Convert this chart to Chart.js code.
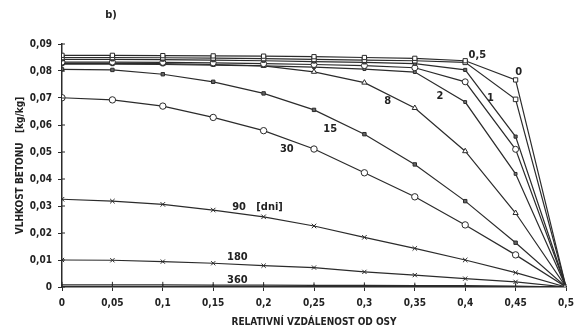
<!DOCTYPE html>
<html><head><meta charset="utf-8">
<script src="https://cdn.jsdelivr.net/npm/chart.js@4/dist/chart.umd.min.js"></script>
<style>html,body{margin:0;padding:0;background:#fff}#wrap{position:relative;width:584px;height:332px}</style>
</head><body><div id="wrap"><canvas id="c" width="584" height="332"></canvas></div>
<script>
// ---- data ----
const xValues = [0, 0.05, 0.1, 0.15, 0.2, 0.25, 0.3, 0.35, 0.4, 0.45, 0.5];
const s0   = [0.0858, 0.0858, 0.0857, 0.0856, 0.0855, 0.0853, 0.0850, 0.0847, 0.0838, 0.0767, 0];
const s05  = [0.0850, 0.0850, 0.0849, 0.0848, 0.0846, 0.0843, 0.0840, 0.0838, 0.0832, 0.0695, 0];
const s1   = [0.0843, 0.0843, 0.0842, 0.0840, 0.0838, 0.0835, 0.0832, 0.0827, 0.0804, 0.0557, 0];
const s1b  = [0.0833, 0.0833, 0.0832, 0.0830, 0.0827, 0.0824, 0.0820, 0.0812, 0.0760, 0.0510, 0];
const s2   = [0.0825, 0.0825, 0.0824, 0.0822, 0.0819, 0.0814, 0.0807, 0.0796, 0.0685, 0.0419, 0];
const s8   = [0.0828, 0.0828, 0.0827, 0.0824, 0.0819, 0.0797, 0.0757, 0.0663, 0.0503, 0.0274, 0];
const s15  = [0.0806, 0.0804, 0.0788, 0.0760, 0.0717, 0.0656, 0.0566, 0.0454, 0.0318, 0.0164, 0];
const s30  = [0.0701, 0.0693, 0.0670, 0.0628, 0.0579, 0.0511, 0.0423, 0.0334, 0.0230, 0.0119, 0];
const s90  = [0.0325, 0.0318, 0.0306, 0.0285, 0.0260, 0.0226, 0.0184, 0.0143, 0.0100, 0.0053, 0];
const s180 = [0.0100, 0.0099, 0.0094, 0.0088, 0.0079, 0.0072, 0.0056, 0.0044, 0.0031, 0.0019, 0];
const s360 = [0.0008, 0.0008, 0.0008, 0.0007, 0.0007, 0.0006, 0.0006, 0.0005, 0.0005, 0.0003, 0];
const xTickValues = [0, 0.05, 0.1, 0.15, 0.2, 0.25, 0.3, 0.35, 0.4, 0.45, 0.5];
const yTickValues = [0, 0.01, 0.02, 0.03, 0.04, 0.05, 0.06, 0.07, 0.08, 0.09];
const curveLabels = ['0,5', '0', '1', '2', '8', '15', '30', '90   [dni]', '180', '360'];
const curveLabelX = [0.412, 0.453, 0.425, 0.375, 0.323, 0.266, 0.223, 0.194, 0.174, 0.174];
const curveLabelY = [0.0857, 0.0795, 0.0699, 0.0707, 0.0689, 0.0585, 0.0511, 0.0297, 0.0111, 0.0024];

const fmt = v => { const r = Math.round(v * 100) / 100; return String(r).replace('.', ','); };
const INK = '#2b2b2b';
const FONT = "'Liberation Sans Narrow','Arial Narrow','DejaVu Sans Condensed','Liberation Sans',Arial,sans-serif";

function ds(label, vals, style, radius, fill, rot) {
  return {
    label, data: xValues.map((x, i) => ({x, y: vals[i]})),
    borderColor: INK, borderWidth: 1.2, pointStyle: style, pointRadius: radius,
    pointBorderColor: INK, pointBorderWidth: 1, pointBackgroundColor: fill,
    pointRotation: rot || 0, tension: 0, fill: false
  };
}
const datasets = [
  ds('0', s0, 'rect', 3, '#fff'),
  ds('0,5', s05, 'rect', 3.2, '#fff'),
  ds('1', s1, 'rect', 2.2, '#666'),
  ds('', s1b, 'circle', 3, '#fff'),
  ds('2', s2, 'rect', 2, '#777'),
  ds('8', s8, 'triangle', 3, '#fff'),
  ds('15', s15, 'rect', 2.4, '#666'),
  ds('30', s30, 'circle', 3.2, '#fff'),
  ds('90', s90, 'crossRot', 3.2, '#fff'),
  ds('180', s180, 'crossRot', 3, '#fff'),
  ds('360', s360, 'line', 3, '#fff', 90)
];

const innerTicks = {
  id: 'innerTicks',
  afterDraw(chart) {
    const c = chart.ctx, xs = chart.scales.x, ys = chart.scales.y;
    c.save(); c.strokeStyle = INK; c.lineWidth = 1;
    xTickValues.forEach(v => { const p = xs.getPixelForValue(v); c.beginPath(); c.moveTo(p, ys.bottom); c.lineTo(p, ys.bottom - 3); c.stroke(); });
    yTickValues.forEach(v => { const p = ys.getPixelForValue(v); c.beginPath(); c.moveTo(xs.left, p); c.lineTo(xs.left + 3, p); c.stroke(); });
    // curve labels
    c.fillStyle = '#222'; c.font = "bold 11px " + FONT; c.textAlign = 'center'; c.textBaseline = 'middle';
    curveLabels.forEach((t, i) => c.fillText(t, xs.getPixelForValue(curveLabelX[i]), ys.getPixelForValue(curveLabelY[i])));
    // panel label
    c.font = "bold 11px " + FONT; c.fillText('b)', 111, 15);
    c.restore();
  }
};

new Chart(document.getElementById('c'), {
  type: 'line',
  data: { datasets },
  options: {
    responsive: false, animation: false, devicePixelRatio: 1,
    layout: { padding: { top: 44, right: 18, left: 0, bottom: 0 } },
    plugins: { legend: { display: false }, tooltip: { enabled: false } },
    scales: {
      x: {
        type: 'linear', min: 0, max: 0.5,
        afterBuildTicks: s => { s.ticks = xTickValues.map(v => ({value: v})); },
        ticks: { callback: v => fmt(v), color: '#222', font: { family: FONT, size: 10, weight: 'bold' }, padding: 6, maxRotation: 0 },
        grid: { drawOnChartArea: false, tickLength: 4, color: INK, lineWidth: 1 },
        border: { color: INK, width: 1.5 },
        title: { display: true, text: 'RELATIVNÍ VZDÁLENOST OD OSY', color: '#222', font: { family: FONT, size: 10, weight: 'bold' }, padding: { top: 0, bottom: 4 } },
        afterFit: s => { s.height = 45; }
      },
      y: {
        type: 'linear', min: 0, max: 0.09,
        afterBuildTicks: s => { s.ticks = yTickValues.map(v => ({value: v})); },
        ticks: { callback: v => fmt(v), color: '#222', font: { family: FONT, size: 10, weight: 'bold' }, padding: 6 },
        grid: { drawOnChartArea: false, tickLength: 4, color: INK, lineWidth: 1 },
        border: { color: INK, width: 1.5 },
        title: { display: true, text: 'VLHKOST BETONU   [kg/kg]', color: '#222', font: { family: FONT, size: 10, weight: 'bold' }, padding: { top: 14, bottom: 0 } },
        afterFit: s => { s.width = 62; }
      }
    }
  },
  plugins: [innerTicks]
});
</script></body></html>
